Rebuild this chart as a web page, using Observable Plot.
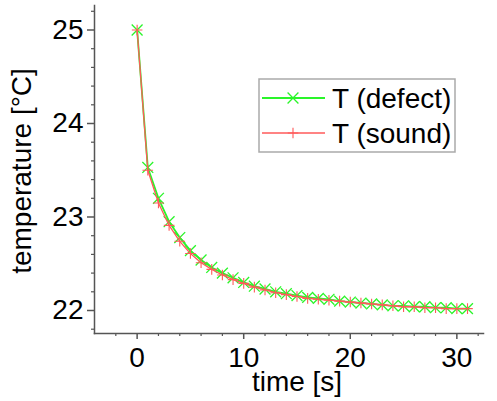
<!DOCTYPE html>
<html>
<head>
<meta charset="utf-8">
<script src="https://cdn.jsdelivr.net/npm/d3@7"></script>
<script src="https://cdn.jsdelivr.net/npm/@observablehq/plot@0.6"></script>
<style>
  html, body { margin: 0; padding: 0; background: #fff; }
  #wrap { position: relative; width: 497px; height: 401px; font-family: "Liberation Sans", Arial, sans-serif; }
</style>
</head>
<body>
<div id="wrap"></div>
<script>
// time in seconds
const time = [0,1,2,3,4,5,6,7,8,9,10,11,12,13,14,15,16,17,18,19,20,21,22,23,24,25,26,27,28,29,30,31];
// temperature of defect region [°C]
const tDefect = [25.00,23.53,23.20,22.95,22.78,22.64,22.54,22.46,22.40,22.35,22.30,22.26,22.23,22.20,22.18,22.16,22.14,22.13,22.12,22.10,22.09,22.08,22.07,22.06,22.05,22.05,22.04,22.04,22.03,22.03,22.02,22.02];
// temperature of sound region [°C]
const tSound = [25.00,23.50,23.15,22.91,22.74,22.61,22.51,22.44,22.38,22.33,22.29,22.25,22.22,22.19,22.17,22.15,22.13,22.12,22.11,22.10,22.09,22.08,22.07,22.06,22.05,22.04,22.04,22.03,22.03,22.02,22.02,22.02];
const seriesNames = ["T (defect)", "T (sound)"];
const xMajor = [0, 10, 20, 30];
const xMinor = [-2, 2, 4, 6, 8, 12, 14, 16, 18, 22, 24, 26, 28, 32];
const yMajor = [22, 23, 24, 25];
const yMinor = [21.8, 22.2, 22.4, 22.6, 22.8, 23.2, 23.4, 23.6, 23.8, 24.2, 24.4, 24.6, 24.8, 25.2];

const green = "#2af52a";
const red = "#ff5a5a";

const defect = time.map((t, i) => ({t, T: tDefect[i]}));
const sound = time.map((t, i) => ({t, T: tSound[i]}));

const axisColor = "#555";
const FS = 28;

const chart = Plot.plot({
  width: 497,
  height: 401,
  marginLeft: 94,
  marginRight: 14,
  marginTop: 5,
  marginBottom: 68,
  style: { fontFamily: "'Liberation Sans', Arial, sans-serif", fontSize: FS + "px", color: "#000", background: "#fff" },
  x: { domain: [-4.0, 32.5] },
  y: { domain: [21.754, 25.262] },
  marks: [
    Plot.axisX({ ticks: xMinor, tickSize: 3, text: null, stroke: axisColor, strokeWidth: 1.2, label: null }),
    Plot.axisX({ ticks: xMajor, tickSize: 6, tickPadding: 8, stroke: axisColor, strokeWidth: 1.5, tickFormat: d => String(d), fill: "#000", fontSize: FS, label: null }),
    Plot.axisY({ ticks: yMinor, tickSize: 3, text: null, stroke: axisColor, strokeWidth: 1.2, label: null }),
    Plot.axisY({ ticks: yMajor, tickSize: 7, tickPadding: 4, stroke: axisColor, strokeWidth: 1.5, tickFormat: d => String(d), fill: "#000", fontSize: FS, label: null }),
    Plot.frame({ anchor: "left", stroke: axisColor, strokeWidth: 1.5 }),
    Plot.frame({ anchor: "bottom", stroke: axisColor, strokeWidth: 1.5 }),
    Plot.line(defect, { x: "t", y: "T", stroke: green, strokeWidth: 1.8, curve: "linear" }),
    Plot.dot(defect, { x: "t", y: "T", symbol: "times", r: 5, stroke: green, strokeWidth: 1.3, fill: "none" }),
    Plot.line(sound, { x: "t", y: "T", stroke: red, strokeWidth: 1.3, curve: "linear" }),
    Plot.dot(sound, { x: "t", y: "T", symbol: "plus", r: 3.5, stroke: red, strokeWidth: 1.1, fill: "none" })
  ]
});

const wrap = document.getElementById("wrap");
wrap.appendChild(chart);

// axis titles
const svg = d3.select(chart);
svg.append("text")
  .attr("x", 297).attr("y", 391)
  .attr("text-anchor", "middle")
  .attr("font-size", FS)
  .attr("fill", "#000")
  .text("time [s]");
svg.append("text")
  .attr("transform", "translate(31,171) rotate(-90)")
  .attr("text-anchor", "middle")
  .attr("font-size", FS)
  .attr("fill", "#000")
  .text("temperature [°C]");

// legend
const lg = svg.append("g");
lg.append("rect").attr("x", 259).attr("y", 79).attr("width", 196).attr("height", 73)
  .attr("fill", "#fff").attr("stroke", "#aaa").attr("stroke-width", 1.5);
const rows = [
  { name: seriesNames[0], color: green, sym: d3.symbolTimes, size: Math.PI * 25, sw: 1.3, lw: 1.8, y: 98 },
  { name: seriesNames[1], color: red, sym: d3.symbolPlus, size: Math.PI * 12.25, sw: 1.1, lw: 1.3, y: 133 }
];
rows.forEach(r => {
  lg.append("line").attr("x1", 262).attr("x2", 325).attr("y1", r.y).attr("y2", r.y)
    .attr("stroke", r.color).attr("stroke-width", r.lw);
  lg.append("path").attr("d", d3.symbol(r.sym, r.size)())
    .attr("transform", `translate(293,${r.y})`)
    .attr("fill", "none").attr("stroke", r.color).attr("stroke-width", r.sw);
  lg.append("text").attr("x", 332).attr("y", r.y + 10).attr("text-anchor", "start")
    .attr("font-size", FS).attr("fill", "#000").text(r.name);
});
</script>
</body>
</html>
